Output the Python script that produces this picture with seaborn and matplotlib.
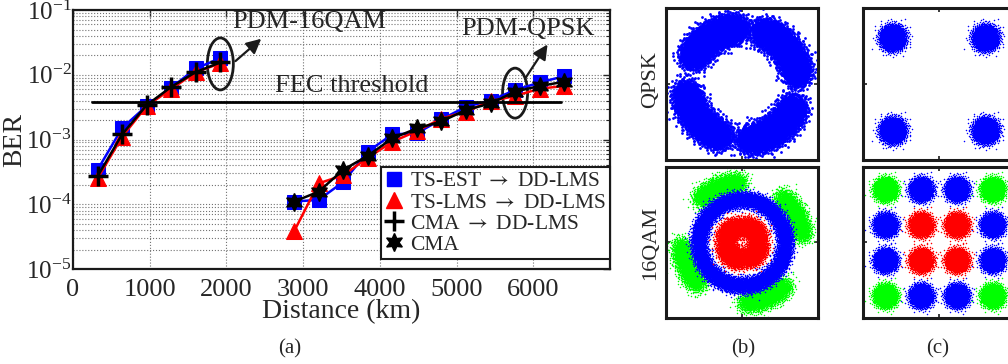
import numpy as np
import pandas as pd
import matplotlib
matplotlib.use("Agg")
import matplotlib.pyplot as plt
import seaborn as sns
from matplotlib.patches import Ellipse
from matplotlib.lines import Line2D
from matplotlib.ticker import LogLocator, NullFormatter
from matplotlib.transforms import ScaledTranslation

# ---- BER vs distance ----
dist_16qam = [320, 640, 960, 1280, 1600, 1920]
ber_16qam_tsest = [3.4e-4, 1.5e-3, 3.3e-3, 6.3e-3, 1.25e-2, 1.8e-2]
ber_16qam_tslms = [2.5e-4, 1.1e-3, 3.3e-3, 6.0e-3, 1.1e-2, 1.5e-2]
ber_16qam_cma_dd = [2.7e-4, 1.2e-3, 3.4e-3, 6.5e-3, 1.1e-2, 1.55e-2]

dist_qpsk = [2880, 3200, 3520, 3840, 4160, 4480, 4800, 5120, 5440, 5760, 6080, 6400]
ber_qpsk_tsest = [1.1e-4, 1.17e-4, 2.2e-4, 6.5e-4, 1.2e-3, 1.25e-3,
                  2.05e-3, 3.2e-3, 4.0e-3, 5.8e-3, 7.6e-3, 9.5e-3]
ber_qpsk_tslms = [3.8e-5, 2.1e-4, 2.8e-4, 5.2e-4, 9.2e-4, 1.35e-3,
                  2.1e-3, 2.7e-3, 3.9e-3, 4.7e-3, 6.1e-3, 6.7e-3]
ber_qpsk_cma = [1.1e-4, 1.56e-4, 3.4e-4, 5.6e-4, 1.04e-3, 1.48e-3,
                1.9e-3, 2.86e-3, 3.6e-3, 5.5e-3, 6.7e-3, 7.8e-3]
fec_threshold = 3.8e-3
fec_span = [250, 6360]

legend_labels = ["TS-EST $\\rightarrow$ DD-LMS", "TS-LMS $\\rightarrow$ DD-LMS",
                 "CMA $\\rightarrow$ DD-LMS", "CMA"]

# ---- constellation cluster centres / spreads ----
qpsk_levels = [-0.61, 0.61]
qam16_levels = [-0.705, -0.235, 0.235, 0.705]
qpsk_arc_start = [94, 8, 187, 275]       # (b) QPSK smeared arcs, degrees
qpsk_arc_end = [153, 70, 249, 338]
qam_red_start = [15, 105, 195, 285]      # (b) 16QAM inner ring lobes
qam_red_end = [85, 175, 265, 355]
qam_green_mid = [113, 28, 294, 203]      # (b) 16QAM outer arcs

BLUE, RED, GREEN, BLACK = "#0000ff", "#ff0000", "#00ff00", "#000000"
STAR6 = (6, 1, 0)


def gauss_disc(n, sigma, step=7919):
    # deterministic gaussian-looking cloud (sunflower pattern, rayleigh radius)
    i = np.arange(n)
    j = (i * step) % n
    u = (j + 0.5) / n
    r = sigma * np.sqrt(-2 * np.log(1 - u))
    th = i * np.pi * (3 - np.sqrt(5))
    return r * np.cos(th), r * np.sin(th)


def blob(cx, cy, sigma, n=2500):
    dx, dy = gauss_disc(n, sigma)
    return cx + dx, cy + dy


def arc(r0, a0, a1, sigma, n=4000):
    t = np.radians(a0 + (a1 - a0) * (np.arange(n) + 0.5) / n)
    dx, dy = gauss_disc(n, sigma)
    return r0 * np.cos(t) + dx, r0 * np.sin(t) + dy


sns.set_theme(style="white")
plt.rcParams["font.family"] = ["Liberation Serif", "DejaVu Serif"]
plt.rcParams["mathtext.fontset"] = "stix"

fig = plt.figure(figsize=(10.08, 3.64), dpi=100)

# ================= (a) BER curves =================
ax = fig.add_axes([0.0724, 0.261, 0.533, 0.7115])
ax.set_yscale("log")

sns.lineplot(x=dist_16qam, y=ber_16qam_tsest, ax=ax, color=BLUE, lw=1.8,
             marker="s", markersize=10, markeredgecolor=BLUE)
sns.lineplot(x=dist_qpsk, y=ber_qpsk_tsest, ax=ax, color=BLUE, lw=1.8,
             marker="s", markersize=10, markeredgecolor=BLUE)
sns.lineplot(x=dist_16qam, y=ber_16qam_tslms, ax=ax, color=RED, lw=1.8,
             marker="^", markersize=11, markeredgecolor=RED)
sns.lineplot(x=dist_qpsk, y=ber_qpsk_tslms, ax=ax, color=RED, lw=1.8,
             marker="^", markersize=11, markeredgecolor=RED)
sns.lineplot(x=dist_16qam, y=ber_16qam_cma_dd, ax=ax, color=BLACK, lw=1.8,
             marker="+", markersize=15, markeredgewidth=2.5, markeredgecolor=BLACK)
sns.lineplot(x=dist_qpsk, y=ber_qpsk_cma, ax=ax, color=BLACK, lw=1.8,
             marker=STAR6, markersize=13, markeredgecolor=BLACK, markeredgewidth=1)

ax.plot(fec_span, [fec_threshold, fec_threshold], color=BLACK, lw=2)

ax.set_xlim(0, 7000)
ax.set_ylim(1e-5, 1e-1)
ax.set_xticks(range(0, 7000, 1000))
ax.yaxis.set_major_locator(LogLocator(base=10, numticks=10))
ax.yaxis.set_minor_locator(LogLocator(base=10, subs=np.arange(2, 10), numticks=10))
ax.yaxis.set_minor_formatter(NullFormatter())
ax.grid(True, which="major", color="0.45", linestyle=":", lw=0.8)
ax.grid(True, which="minor", axis="y", color="0.45", linestyle=":", lw=0.8)
ax.tick_params(which="both", direction="in", top=True, right=True)
ax.tick_params(which="major", length=5, width=1)
ax.tick_params(which="minor", length=3, width=0.8)
ax.tick_params(axis="x", labelsize=19, pad=7)
ax.tick_params(axis="y", labelsize=18, pad=1)
for s in ax.spines.values():
    s.set_linewidth(1.6)
    s.set_color("k")
ax.set_xlabel("Distance (km)", fontsize=20, labelpad=-1)
ax.set_ylabel("BER", fontsize=20)
ax.yaxis.set_label_coords(-0.086, 0.5)

# ellipses + arrows around the two families of curves
def mark(xc, yc, w, h, start, tip):
    tr = fig.dpi_scale_trans + ScaledTranslation(xc, yc, ax.transData)
    ax.add_patch(Ellipse((0, 0), w, h, transform=tr, fill=False, lw=2, ec="k"))
    ax.annotate("", xy=tip, xycoords=tr, xytext=start, textcoords=tr,
                arrowprops=dict(arrowstyle="-|>", mutation_scale=22, lw=1.6, color="k"))

mark(1920, 1.47e-2, 0.26, 0.52, (0.13, 0.01), (0.43, 0.27))
mark(5760, 5.2e-3, 0.25, 0.50, (0.09, 0.13), (0.34, 0.51))

ax.text(0.4395, 0.952, "PDM-16QAM", transform=ax.transAxes, ha="center", va="center", fontsize=19)
ax.text(0.847, 0.925, "PDM-QPSK", transform=ax.transAxes, ha="center", va="center", fontsize=19)
ax.text(0.518, 0.705, "FEC threshold", transform=ax.transAxes, ha="center", va="center", fontsize=19)

handles = [
    Line2D([], [], ls="none", marker="s", ms=10, color=BLUE),
    Line2D([], [], ls="none", marker="^", ms=11, color=RED),
    Line2D([], [], ls="none", marker="+", ms=15, mew=2.5, color=BLACK),
    Line2D([], [], ls="none", marker=STAR6, ms=13, color=BLACK),
]
leg = ax.legend(handles, legend_labels, loc="lower right", bbox_to_anchor=(1.0, 0.038),
                borderaxespad=0, fontsize=15.5, frameon=True, fancybox=False,
                framealpha=1, edgecolor="k", handlelength=0.8, handletextpad=0.35,
                labelspacing=0.05, borderpad=0.2)
leg.get_frame().set_linewidth(1.5)

# ================= (b), (c) constellations =================
def const_axes(rect):
    a = fig.add_axes(rect)
    a.set_xlim(-1, 1)
    a.set_ylim(-1, 1)
    a.set_xticks([0])
    a.set_yticks([0])
    a.set_xticklabels([])
    a.set_yticklabels([])
    a.tick_params(direction="in", top=True, bottom=True, left=True, right=True,
                  length=3, width=1.2, color="k")
    for s in a.spines.values():
        s.set_linewidth(2.2)
        s.set_color("k")
    return a


def cloud(a, xs, ys, color, size=1.0):
    sns.scatterplot(x=xs, y=ys, ax=a, color=color, s=size, linewidth=0,
                    legend=False)


w_c, h_top, h_bot = 0.1508, 0.4176, 0.4148
ax_b1 = const_axes([0.6607, 0.5604, w_c, h_top])
ax_b2 = const_axes([0.6607, 0.1264, w_c, h_bot])
ax_c1 = const_axes([0.8562, 0.5604, w_c, h_top])
ax_c2 = const_axes([0.8562, 0.1264, w_c, h_bot])

# (b) QPSK - phase smeared ring
for a0, a1 in zip(qpsk_arc_start, qpsk_arc_end):
    xs, ys = arc(0.74, a0, a1, 0.085, n=7000)
    cloud(ax_b1, xs, ys, BLUE, size=4)

# (b) 16QAM
for m in qam_green_mid:
    xs, ys = arc(0.8, m - 22, m + 22, 0.065, n=3000)
    cloud(ax_b2, xs, ys, GREEN, size=1.2)
xs, ys = arc(0.57, 0, 360, 0.052, n=16000)
cloud(ax_b2, xs, ys, BLUE, size=1.2)
for a0, a1 in zip(qam_red_start, qam_red_end):
    xs, ys = arc(0.22, a0, a1, 0.062, n=3000)
    cloud(ax_b2, xs, ys, RED, size=1.2)

# (c) QPSK
for cx in qpsk_levels:
    for cy in qpsk_levels:
        xs, ys = blob(cx, cy, 0.075, n=3000)
        cloud(ax_c1, xs, ys, BLUE, size=1.2)

# (c) 16QAM
for cx in qam16_levels:
    for cy in qam16_levels:
        outer_x = abs(cx) > 0.5
        outer_y = abs(cy) > 0.5
        if outer_x and outer_y:
            col = GREEN
        elif not outer_x and not outer_y:
            col = RED
        else:
            col = BLUE
        xs, ys = blob(cx, cy, 0.068, n=2500)
        cloud(ax_c2, xs, ys, col, size=1.2)

fig.text(651 / 1008, 1 - 80 / 364, "QPSK", rotation=90, ha="center", va="center", fontsize=16)
fig.text(651 / 1008, 1 - 243 / 364, "16QAM", rotation=90, ha="center", va="center", fontsize=16)

fig.text(290 / 1008, 1 - 349 / 364, "(a)", ha="center", va="center", fontsize=15)
fig.text(743 / 1008, 1 - 349 / 364, "(b)", ha="center", va="center", fontsize=15)
fig.text(938 / 1008, 1 - 349 / 364, "(c)", ha="center", va="center", fontsize=15)

fig.savefig("out.png", dpi=100)
